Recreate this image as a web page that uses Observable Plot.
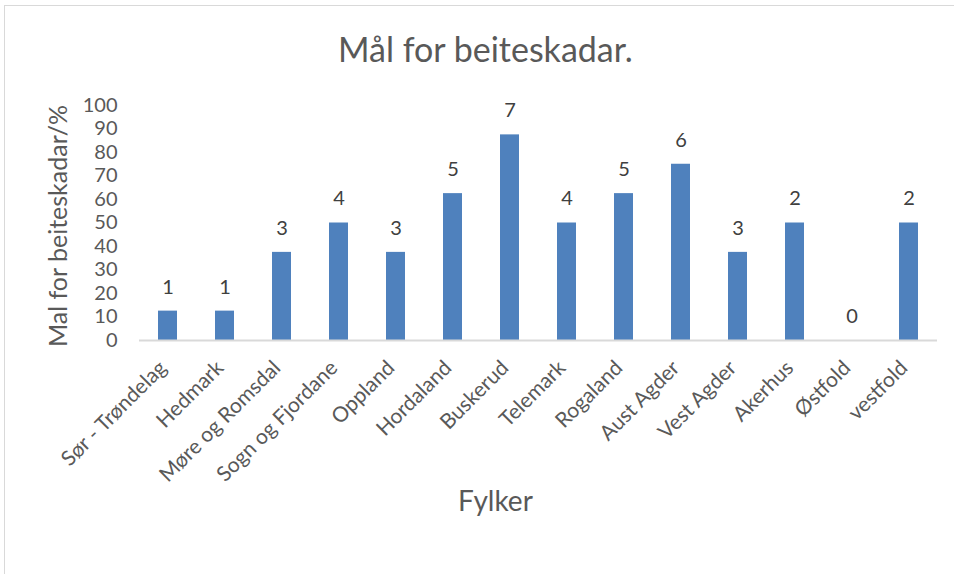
<!DOCTYPE html>
<html>
<head>
<meta charset="utf-8">
<script src="https://cdn.jsdelivr.net/npm/d3@7"></script>
<script src="https://cdn.jsdelivr.net/npm/@observablehq/plot@0.6"></script>
<style>
  body { margin: 0; background: #fff; overflow: hidden; }
  #wrap { position: relative; width: 954px; height: 574px; overflow: hidden; font-family: Lato, "Open Sans", sans-serif; color: #595959; }
  #frame { position: absolute; left: 4px; top: 5px; width: 980px; height: 600px; border: 1px solid #d9d9d9; box-sizing: border-box; }
  #title { position: absolute; left: 338px; top: 29px; font-size: 34px; line-height: 40px; white-space: nowrap; }
  #xlabel { position: absolute; left: 458px; top: 483px; font-size: 28px; line-height: 34px; white-space: nowrap; }
  #ylabel { position: absolute; left: 57px; top: 226px; transform: translate(-50%, -50%) rotate(-90deg); white-space: nowrap; font-size: 25px; }
  #chart { position: absolute; left: 0; top: 0; }
</style>
</head>
<body>
<div id="wrap">
  <div id="frame"></div>
  <div id="chart"></div>
  <div id="title">Mål for beiteskadar.</div>
  <div id="ylabel">Mal for beiteskadar/%</div>
  <div id="xlabel">Fylker</div>
</div>
<script>
const fylker = ["Sør - Trøndelag", "Hedmark", "Møre og Romsdal", "Sogn og Fjordane", "Oppland", "Hordaland", "Buskerud", "Telemark", "Rogaland", "Aust Agder", "Vest Agder", "Akerhus", "Østfold", "vestfold"];
const prosent = [12.5, 12.5, 37.5, 50, 37.5, 62.5, 87.5, 50, 62.5, 75, 37.5, 50, 0, 50];
const antal = [1, 1, 3, 4, 3, 5, 7, 4, 5, 6, 3, 2, 0, 2];
const yTicks = [0, 10, 20, 30, 40, 50, 60, 70, 80, 90, 100];

const data = fylker.map((f, i) => ({fylke: f, pct: prosent[i], n: antal[i]}));

const chart = Plot.plot({
  width: 954,
  height: 574,
  marginTop: 105,
  marginBottom: 234,
  marginLeft: 139,
  marginRight: 17,
  style: {fontFamily: "Lato, 'Open Sans', sans-serif", background: "transparent", color: "#595959"},
  x: {domain: fylker, paddingInner: 0.665, paddingOuter: 0.3325, label: null},
  y: {domain: [0, 100], label: null},
  marks: [
    Plot.barY(data, {x: "fylke", y: "pct", fill: "#4f81bd"}),
    Plot.ruleY([0], {stroke: "#d9d9d9", strokeWidth: 2}),
    Plot.text(data, {x: "fylke", y: "pct", text: d => String(d.n), dy: -24, fontSize: 20, fill: "#404040"}),
    Plot.axisY(yTicks, {tickSize: 0, tickPadding: 22, fontSize: 20, fill: "#595959", label: null}),
    Plot.axisX({tickSize: 0, tickRotate: -45, tickPadding: 24, dx: -5, fontSize: 21, fill: "#595959", label: null})
  ]
});
document.getElementById("chart").appendChild(chart);
</script>
</body>
</html>
